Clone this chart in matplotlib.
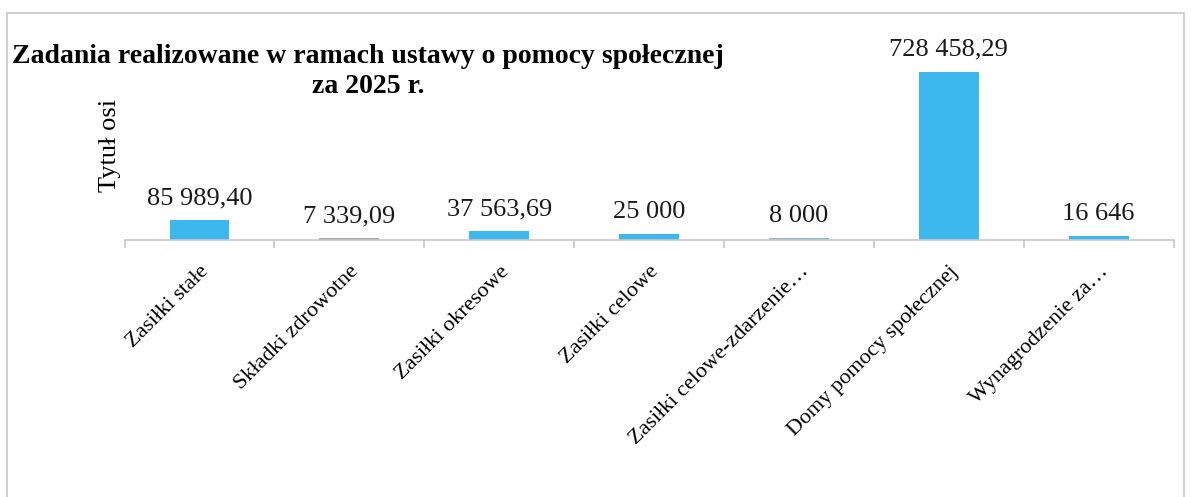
import matplotlib.pyplot as plt
from matplotlib.patches import Rectangle

plt.rcParams['font.family'] = ['Liberation Serif', 'DejaVu Serif']

kategorie = ['Zasiłki stałe', 'Składki zdrowotne', 'Zasiłki okresowe', 'Zasiłki celowe',
             'Zasiłki celowe-zdarzenie…', 'Domy pomocy społecznej', 'Wynagrodzenie za…']
kwoty = [85989.40, 7339.09, 37563.69, 25000, 8000, 728458.29, 16646]
etykiety = ['85 989,40', '7 339,09', '37 563,69', '25 000', '8 000', '728 458,29', '16 646']
kolory = ['#3db8ef', '#a9a9a9', '#3db8ef', '#3db8ef', '#8fb8c8', '#3db8ef', '#3db8ef']

fig = plt.figure(figsize=(11.92, 4.97), dpi=100)
# ramka wykresu
fig.patches.append(Rectangle((0.006, -0.05), 0.987, 1.024, transform=fig.transFigure,
                             fill=False, edgecolor='#c8c8c8', linewidth=1.2))

ax = fig.add_axes([0.1045, 0.517, 0.88, 0.423])
x = range(len(kategorie))
bars = ax.bar(x, kwoty, width=0.4, color=kolory)
ax.bar_label(bars, labels=etykiety, padding=8, fontsize=19, color='#1a1a1a')

ax.set_xlim(-0.5, len(kategorie) - 0.5)
ax.set_ylim(0, 910000)
for s in ['top', 'right', 'left']:
    ax.spines[s].set_visible(False)
ax.spines['bottom'].set_color('#c8c8c8')
ax.spines['bottom'].set_linewidth(1.2)
ax.set_yticks([])

ax.set_xticks(list(x))
ax.set_xticklabels(kategorie, rotation=45, ha='right', rotation_mode='anchor', fontsize=16)
ax.tick_params(axis='x', which='major', length=0, pad=16)
ax.set_xticks([i + 0.5 for i in range(-1, len(kategorie))], minor=True)
ax.tick_params(axis='x', which='minor', length=6, color='#c8c8c8', width=1.2)

ax.set_ylabel('Tytuł osi', fontsize=19)
ax.yaxis.set_label_coords(-0.003, 0.45)

fig.text(0.309, 0.856, 'Zadania realizowane w ramach ustawy o pomocy społecznej\nza 2025 r.',
         ha='center', va='center', fontsize=20, fontweight='bold', linespacing=1.3)

fig.savefig('out.png', dpi=100)
